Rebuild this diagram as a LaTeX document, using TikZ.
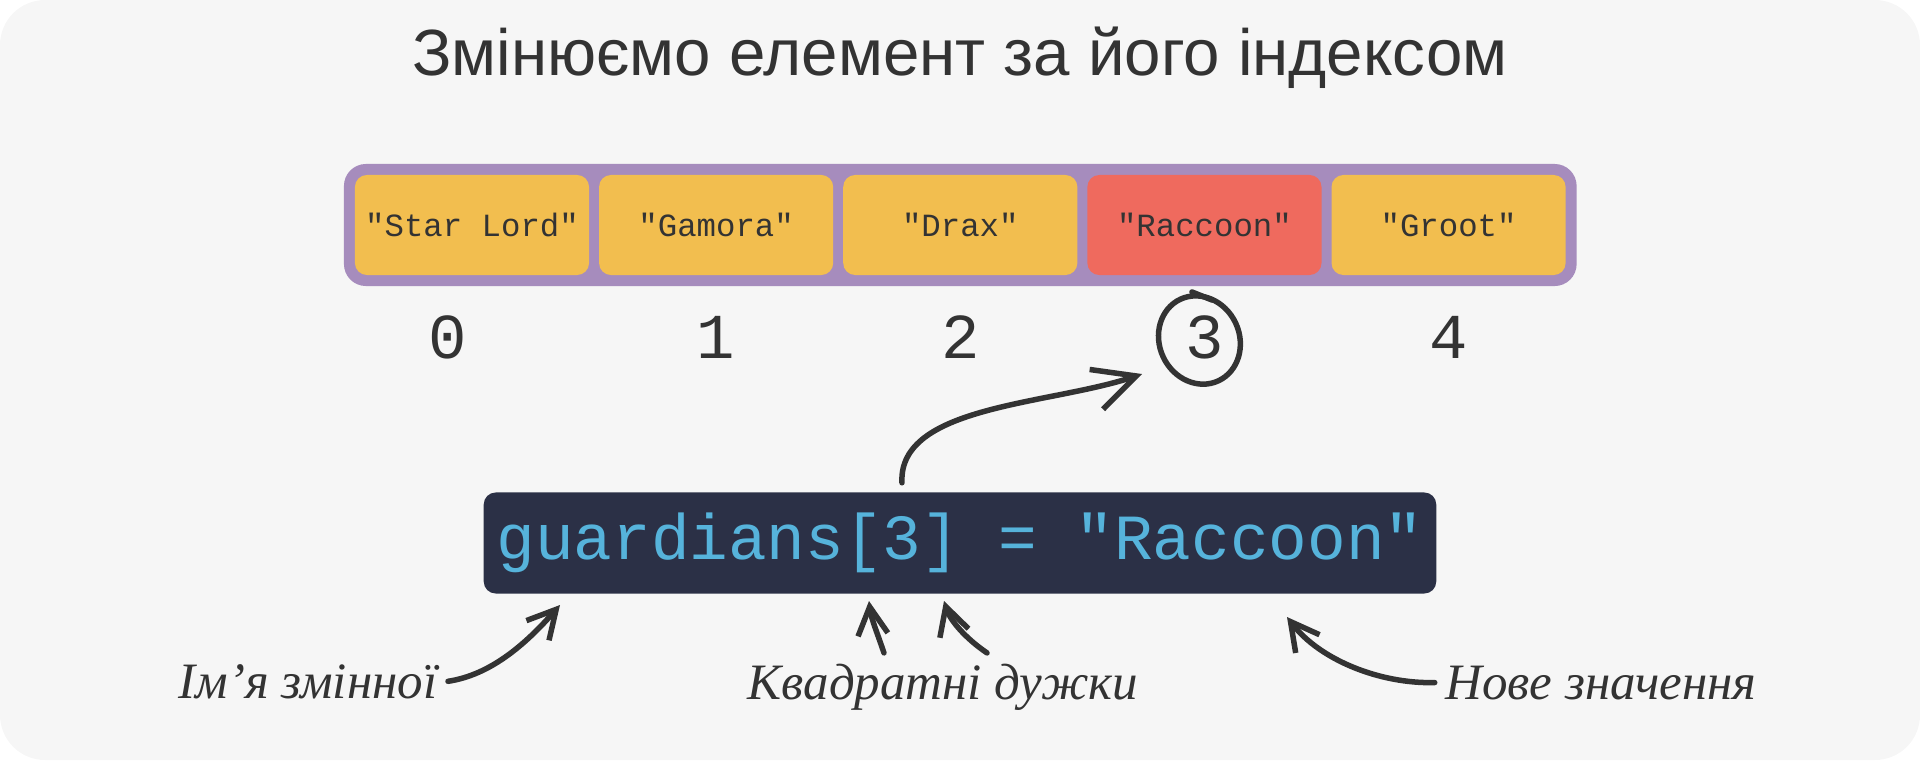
\documentclass[tikz,border=0pt]{standalone}
\usepackage{fontspec}
\setmainfont{Liberation Sans}
\newfontfamily\codefont{Liberation Mono}
\newfontfamily\handfont{Liberation Serif}
\usetikzlibrary{arrows.meta,positioning,fit,backgrounds}
\definecolor{cInk}{HTML}{333333}
\definecolor{cBack}{HTML}{F6F6F6}
\definecolor{cCell}{HTML}{F2BE4F}
\definecolor{cHot}{HTML}{EF6A5E}
\definecolor{cFrame}{HTML}{A68CBD}
\definecolor{cCode}{HTML}{2B3046}
\definecolor{cCodeText}{HTML}{56B3DB}

\begin{document}
\begin{tikzpicture}[
  x=0.01cm, y=-0.01cm,
  heading/.style={font=\fontsize{18.6pt}{20pt}\selectfont, text=cInk, inner sep=0pt},
  cell/.style={rectangle, rounded corners=0.12cm, fill=cCell, minimum width=2.34cm,
    minimum height=1cm, inner sep=0pt, outer sep=0pt, text=cInk,
    font=\codefont\fontsize{9.2pt}{11pt}\selectfont},
  hot/.style={cell, fill=cHot},
  arrframe/.style={rectangle, rounded corners=0.22cm, fill=cFrame, inner sep=0.11cm},
  idx/.style={font=\codefont\fontsize{18.2pt}{20pt}\selectfont, text=cInk, inner sep=0pt},
  codebox/.style={rectangle, rounded corners=0.12cm, fill=cCode, minimum width=9.52cm,
    minimum height=1.01cm, inner sep=0pt, text=cCodeText,
    font=\codefont\fontsize{18.3pt}{20pt}\selectfont},
  hand/.style={font=\handfont\itshape\fontsize{14.5pt}{17pt}\selectfont, text=cInk,
    inner sep=0.1cm},
  scrawl/.style={draw=cInk, line width=0.055cm, line cap=round, line join=round,
    -{Straight Barb[length=0.28cm, width=0.3cm]}},
  ring/.style={draw=cInk, line width=0.055cm, line cap=round},
]
\useasboundingbox (0,0) rectangle (1920,760);
\begin{scope}[on background layer]
  \fill[cBack, rounded corners=0.45cm] (0,0) rectangle (1920,760);
\end{scope}
% ---------------------------------------------------------------- title
\node[heading] (title) at (960,58) {Змінюємо елемент за його індексом};
% ---------------------------------------------------------------- array
\node[cell] (c0) at (472,225) {"Star Lord"};
\node[cell, right=0.1cm of c0] (c1) {"Gamora"};
\node[cell, right=0.1cm of c1] (c2) {"Drax"};
\node[hot, right=0.1cm of c2] (c3) {"Raccoon"};
\node[cell, right=0.1cm of c3] (c4) {"Groot"};
\begin{scope}[on background layer]
  \node[arrframe, fit=(c0)(c4)] (arr) {};
\end{scope}
% ---------------------------------------------------------------- indices
\node[idx] (i0) at (448,337) {0};
\node[idx] (i1) at (c1 |- i0) {1};
\node[idx] (i2) at (c2 |- i0) {2};
\node[idx] (i3) at (c3 |- i0) {3};
\node[idx] (i4) at (c4 |- i0) {4};
\draw[ring] ([xshift=-0.05cm, yshift=-0.03cm]i3.center) ellipse [x radius=40, y radius=45, rotate=25];
\draw[ring] (1192,292) -- (1212,300);
% ---------------------------------------------------------------- code line
\node[codebox] (code) at (960,543) {guardians[3] = "Raccoon"};
% ---------------------------------------------------------------- notes
\node[hand, anchor=base] (lblname) at (308,698) {Ім’я змінної};
\node[hand, anchor=base] (lblbrk) at (943,699) {Квадратні дужки};
\node[hand, anchor=base] (lblnew) at (1601,699) {Нове значення};
% ---------------------------------------------------------------- arrows
\coordinate (codetop) at ([xshift=-0.58cm, yshift=0.09cm]code.north);
\coordinate (tipidx) at (1142,374);
\coordinate (tipname) at (560,605);
\coordinate (tipbrka) at (869,601);
\coordinate (tipbrkb) at (944,601);
\coordinate (tipnew) at (1287,617);
\draw[scrawl, -{Straight Barb[length=0.42cm, width=0.42cm]}]
  (codetop) .. controls (898,405) and (1050,405) .. (tipidx);
\draw[scrawl] (lblname.east) .. controls (490,675) and (525,645) .. (tipname);
\draw[scrawl] ([xshift=-0.59cm]lblbrk.north) .. controls (878,635) and (871,618) .. (tipbrka);
\draw[scrawl] ([xshift=0.44cm]lblbrk.north) .. controls (965,638) and (950,620) .. (tipbrkb);
\draw[scrawl] (lblnew.west) .. controls (1380,684) and (1320,660) .. (tipnew);
\end{tikzpicture}
\end{document}
